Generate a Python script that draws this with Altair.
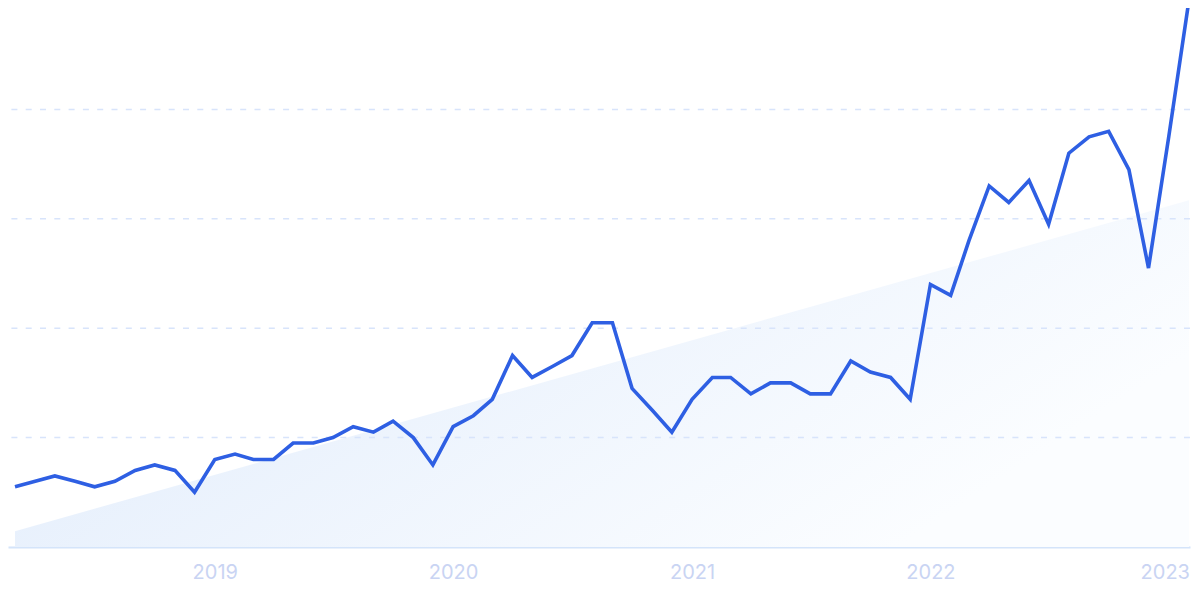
import altair as alt
import pandas as pd

# Monthly points, Mar 2018 .. Feb 2023
months = pd.date_range("2018-03-01", "2023-02-01", freq="MS").strftime("%Y-%m-%d").tolist()
values = [11, 12, 13, 12, 11, 12, 14, 15, 14, 10,
          16, 17, 16, 16, 19, 19, 20, 22, 21, 23,
          20, 15, 22, 24, 27, 35, 31, 33, 35, 41,
          41, 29, 25, 21, 27, 31, 31, 28, 30, 30,
          28, 28, 34, 32, 31, 27, 48, 46, 56, 66,
          63, 67, 59, 72, 75, 76, 69, 51, 75, 100]

trend_dates = ["2018-03-01", "2023-02-01"]
trend_values = [2.9, 63.4]

grid_values = [20, 40, 60, 80]
year_ticks = [2019, 2020, 2021, 2022, 2023]

series = pd.DataFrame({"date": months, "value": values})
trend = pd.DataFrame({"date": trend_dates, "value": trend_values})
grid = pd.DataFrame({"value": grid_values})

x_scale = alt.Scale(
    type="utc",
    domain=[alt.DateTime(year=2018, month=2, date=18, hours=7, utc=True),
            alt.DateTime(year=2023, month=2, date=2, hours=13, utc=True)],
)
y_scale = alt.Scale(domain=[0, 98.54], nice=False, zero=True)

x_axis = alt.Axis(
    values=[alt.DateTime(year=y, month=1, date=1, utc=True) for y in year_ticks],
    format="%Y",
    title=None,
    grid=False,
    ticks=False,
    labelFont="Inter",
    labelFontSize=20,
    labelColor="#c9d4f3",
    labelPadding=15,
    labelOffset={"condition": {"test": "utcyear(datum.value) == 2023", "value": -4}, "value": 0},
    domainColor="#d4e4fa",
    domainWidth=2,
)

area = alt.Chart(trend).mark_area(
    color=alt.Gradient(
        gradient="linear",
        stops=[alt.GradientStop(color="#deeafb", offset=0),
               alt.GradientStop(color="#fbfdff", offset=1)],
        x1=0, y1=0, x2=1, y2=0.45,
    )
).encode(
    x=alt.X("date:T", scale=x_scale, axis=x_axis),
    y=alt.Y("value:Q", scale=y_scale, axis=None),
)

rules = alt.Chart(grid).mark_rule(
    color="#d8e4fb", strokeWidth=1.5, strokeDash=[6, 8.3]
).encode(
    y=alt.Y("value:Q", scale=y_scale, axis=None),
)

line = alt.Chart(series).mark_line(
    color="#2e5fe3", strokeWidth=3.6
).encode(
    x=alt.X("date:T", scale=x_scale, axis=x_axis),
    y=alt.Y("value:Q", scale=y_scale, axis=None),
)

chart = alt.layer(area, rules, line).properties(
    width=1182,
    height=539,
    autosize=alt.AutoSizeParams(type="none"),
    padding={"left": 0, "top": 0, "right": 2, "bottom": 44},
    background="white",
).configure_view(stroke=None)

chart.save("out.html", embed_options={"renderer": "svg", "actions": False})
